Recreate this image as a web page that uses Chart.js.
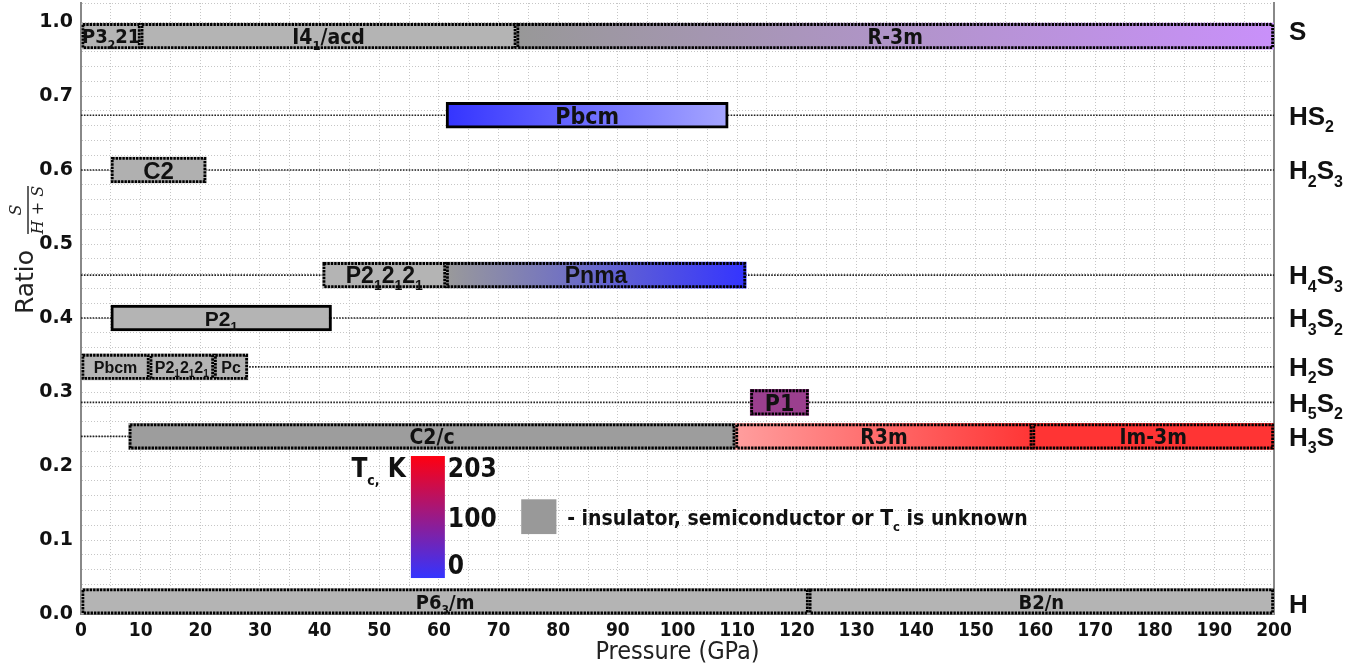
<!DOCTYPE html>
<html>
<head>
<meta charset="utf-8">
<script src="https://cdn.jsdelivr.net/npm/chart.js@4.4.0/dist/chart.umd.min.js"></script>
<style>
  html, body { margin: 0; padding: 0; background: #fff; }
</style>
</head>
<body>
<canvas id="chart" width="1360" height="666"></canvas>
<script>
// rows of the diagram (composition lines), position on the ratio axis
var rowNames = ['S', 'HS_2', 'H_2S_3', 'H_4S_3', 'H_3S_2', 'H_2S', 'H_5S_2', 'H_3S', 'H'];
var rowPos = [0.781, 0.674, 0.600, 0.458, 0.400, 0.334, 0.286, 0.240, 0.017];
var tieRows = [1, 2, 3, 4, 5, 6, 7];

// phases: name, row, pressure range (GPa)
var phaseNames = ['P3_221', 'I4_1/acd', 'R-3m', 'Pbcm', 'C2', 'P2_12_12_1', 'Pnma', 'P2_1',
                  'Pbcm', 'P2_12_12_1', 'Pc', 'P1', 'C2/c', 'R3m', 'Im-3m', 'P6_3/m', 'B2/n'];
var phaseRow  = [0, 0, 0, 1, 2, 3, 3, 4, 5, 5, 5, 6, 7, 7, 7, 8, 8];
var phaseFrom = [0, 10, 73, 61.2, 5, 40.5, 61.2, 5, 0, 11.5, 22.3, 112.2, 8, 109.7, 159.5, 0, 122];
var phaseTo   = [10, 73, 200, 108.5, 21, 61.2, 111.5, 42, 11.5, 22.3, 28, 122, 109.7, 159.5, 200, 122, 200];

var yTickValues = [0, 0.1, 0.2, 0.3, 0.4, 0.5, 0.6, 0.7, 0.8];
var yTickLabels = ['0.0', '0.1', '0.2', '0.3', '0.4', '0.5', '0.6', '0.7', '1.0'];
var tcTicks = [0, 100, 203];

// styles
var GR = '#b4b4b4';
var phaseFill = [[GR], [GR], ['#989898', '#c990fa'], ['#3434ff', '#a6a6ff'], ['#b0b0b0'], [GR],
                 ['#9a9a9a', '#3434ff'], [GR], [GR], [GR], [GR], ['#9b3f8e'], ['#9d9d9d'],
                 ['#ff9e9e', '#ff3535'], ['#ff3434'], [GR], [GR]];
var phaseSolid = [0, 0, 0, 1, 0, 0, 0, 1, 0, 0, 0, 0, 0, 0, 0, 0, 0];
var phaseFontSize = [20, 21, 21, 23, 24, 23, 23, 21, 16, 16, 16, 23, 21, 21, 21, 20, 20];
var phaseNarrow   = [1, 1, 1, 1, 0, 0, 0, 0, 0, 0, 0, 1, 1, 1, 1, 1, 1];

var NARROW = '"Liberation Sans Narrow", "DejaVu Sans Condensed", sans-serif';
var WIDE = '"Liberation Sans", "DejaVu Sans", sans-serif';
var COND = '"DejaVu Sans Condensed", "Liberation Sans Narrow", sans-serif';

// text with subscripts: "_x" or "_{xy}"
function parseRich(str) {
    var parts = [];
    for (var i = 0; i < str.length; i++) {
        var ch = str[i];
        if (ch === '_') {
            if (str[i + 1] === '{') {
                var j = str.indexOf('}', i);
                parts.push({ t: str.slice(i + 2, j), sub: true });
                i = j;
            } else {
                parts.push({ t: str[i + 1], sub: true });
                i++;
            }
        } else {
            if (parts.length && !parts[parts.length - 1].sub) parts[parts.length - 1].t += ch;
            else parts.push({ t: ch, sub: false });
        }
    }
    return parts;
}

function drawRich(ctx, str, x, y, size, family, weight, align, subScale) {
    subScale = subScale || 0.6;
    var parts = parseRich(str);
    var fMain = (weight || '') + ' ' + size + 'px ' + family;
    var fSub = (weight || '') + ' ' + Math.round(size * subScale) + 'px ' + family;
    var w = 0;
    parts.forEach(p => { ctx.font = p.sub ? fSub : fMain; p.w = ctx.measureText(p.t).width; w += p.w; });
    var cx = align === 'center' ? x - w / 2 : (align === 'right' ? x - w : x);
    var base = y + size * 0.36;
    ctx.textAlign = 'left';
    ctx.textBaseline = 'alphabetic';
    parts.forEach(p => {
        ctx.font = p.sub ? fSub : fMain;
        ctx.fillText(p.t, cx, p.sub ? base + size * 0.28 : base);
        cx += p.w;
    });
    return w;
}

var barData = phaseNames.map((n, i) => ({ y: rowPos[phaseRow[i]], x: [phaseFrom[i], phaseTo[i]] }));

var datasets = [{
    type: 'bar',
    indexAxis: 'y',
    data: barData,
    barThickness: 26,
    borderSkipped: false,
    borderColor: '#000',
    borderWidth: c => phaseSolid[c.dataIndex] ? 3 : 0,
    backgroundColor: c => {
        var i = c.dataIndex, f = phaseFill[i];
        if (!f) return GR;
        if (f.length == 1) return f[0];
        var xs = c.chart.scales.x;
        if (!c.chart.chartArea || !xs) return f[0];
        var g = c.chart.ctx.createLinearGradient(xs.getPixelForValue(phaseFrom[i]), 0, xs.getPixelForValue(phaseTo[i]), 0);
        g.addColorStop(0, f[0]);
        g.addColorStop(1, f[1]);
        return g;
    },
    order: 1
}];
tieRows.forEach(r => {
    datasets.push({
        type: 'line',
        data: [{ x: 0, y: rowPos[r] }, { x: 200, y: rowPos[r] }],
        borderColor: '#222',
        borderWidth: 1.6,
        borderDash: [1.6, 1.3],
        pointRadius: 0,
        order: 2
    });
});

var barDecor = {
    id: 'barDecor',
    afterDatasetsDraw(chart) {
        var ctx = chart.ctx;
        var meta = chart.getDatasetMeta(0);
        ctx.save();
        meta.data.forEach((bar, i) => {
            var p = bar.getProps(['x', 'y', 'base', 'height'], true);
            var l = Math.min(p.x, p.base), r = Math.max(p.x, p.base);
            var t = p.y - p.height / 2, b = p.y + p.height / 2;
            if (!phaseSolid[i]) {
                ctx.strokeStyle = '#000';
                ctx.lineWidth = 2.8;
                ctx.setLineDash([2.4, 1]);
                ctx.strokeRect(l + 1.4, t + 1.4, r - l - 2.8, b - t - 2.8);
                ctx.setLineDash([]);
            }
            ctx.fillStyle = '#111';
            drawRich(ctx, phaseNames[i], (l + r) / 2, p.y, phaseFontSize[i],
                phaseNarrow[i] ? NARROW : WIDE, 'bold', 'center');
        });
        ctx.restore();
    },
    afterDraw(chart) {
        var ctx = chart.ctx, xs = chart.scales.x, ys = chart.scales.y, area = chart.chartArea;
        ctx.save();
        // formula labels at the right
        ctx.fillStyle = '#111';
        rowNames.forEach((n, i) => {
            var y = ys.getPixelForValue(rowPos[i]);
            if (i === 0) y -= 5;
            if (i === rowNames.length - 1) y += 2;
            drawRich(ctx, n, area.right + 15, y, 26, WIDE, 'bold', 'left', 0.62);
        });

        // y axis title
        ctx.save();
        ctx.translate(26, 282);
        ctx.rotate(-Math.PI / 2);
        ctx.font = '25px "DejaVu Sans", sans-serif';
        ctx.textAlign = 'center';
        ctx.textBaseline = 'middle';
        ctx.fillStyle = '#222';
        ctx.fillText('Ratio', 0, 0);
        ctx.translate(72, 2);
        ctx.font = 'italic 16px "DejaVu Serif", serif';
        ctx.fillText('S', 0, -11);
        ctx.fillText('H + S', 0, 11);
        ctx.fillRect(-24, -0.7, 48, 1.4);
        ctx.restore();

        // colour bar for Tc
        var cbL = xs.getPixelForValue(55.3), cbR = xs.getPixelForValue(61.0);
        var cbT = ys.getPixelForValue(0.2135), cbB = ys.getPixelForValue(0.0486);
        var g = ctx.createLinearGradient(0, cbB, 0, cbT);
        g.addColorStop(0, '#3434ff');
        g.addColorStop(1, '#ff0010');
        ctx.fillStyle = g;
        ctx.fillRect(cbL, cbT, cbR - cbL, cbB - cbT);
        ctx.fillStyle = '#111';
        tcTicks.forEach(v => {
            var y = (cbB - 13) - v / tcTicks[tcTicks.length - 1] * (cbB - cbT - 25);
            drawRich(ctx, String(v), cbR + 3, y, 26, COND, 'bold', 'left');
        });
        drawRich(ctx, 'T_{c,} K', cbL - 5, ys.getPixelForValue(0.2135) + 12, 26, COND, 'bold', 'right', 0.55);

        // grey legend square
        var sqL = xs.getPixelForValue(73.8), sqR = xs.getPixelForValue(79.7);
        var sqT = ys.getPixelForValue(0.155), sqB = ys.getPixelForValue(0.108);
        ctx.fillStyle = '#999';
        ctx.fillRect(sqL, sqT, sqR - sqL, sqB - sqT);
        ctx.fillStyle = '#111';
        drawRich(ctx, '- insulator, semiconductor or T_c is unknown', xs.getPixelForValue(81.5),
            ys.getPixelForValue(0.131), 21, NARROW, 'bold', 'left', 0.6);
        ctx.restore();
    }
};

var minorY = [];
for (var k = 0; k <= 40; k++) minorY.push(Math.round(k * 2) / 100);
minorY.push(0.8257);

function noPad(s) {
    s.paddingTop = 0;
    s.paddingBottom = 0;
}

var chart = new Chart(document.getElementById('chart').getContext('2d'), {
    type: 'bar',
    data: { datasets: datasets },
    options: {
        responsive: false,
        animation: false,
        layout: { padding: { top: 3, right: 0, left: 0, bottom: 0 } },
        plugins: { legend: { display: false }, tooltip: { enabled: false } },
        scales: {
            x: {
                type: 'linear',
                offset: false,
                min: 0,
                max: 200,
                afterFit: s => { s.height = 52; s.paddingLeft = 0; s.paddingRight = 0; },
                ticks: {
                    stepSize: 5,
                    autoSkip: false,
                    maxRotation: 0,
                    padding: 6,
                    color: '#111',
                    font: { family: COND, size: 19, weight: 'bold' },
                    callback: v => (v % 10 === 0 ? String(v) : '')
                },
                grid: { color: '#c6c6c6', lineWidth: 1, drawTicks: false, offset: false },
                border: { display: true, color: '#888', width: 2, dash: [1, 2] },
                title: {
                    display: true,
                    text: 'Pressure (GPa)',
                    color: '#222',
                    font: { family: COND, size: 25, lineHeight: 1.1 },
                    padding: { top: 0, bottom: 0 }
                }
            },
            y: {
                type: 'linear',
                offset: false,
                min: 0,
                max: 0.8257,
                afterFit: s => { s.width = 81; noPad(s); },
                afterBuildTicks: s => { s.ticks = minorY.map(v => ({ value: v })); },
                ticks: {
                    autoSkip: false,
                    padding: 8,
                    color: '#111',
                    font: { family: '"DejaVu Sans", sans-serif', size: 19, weight: 'bold' },
                    callback: v => {
                        var k = yTickValues.findIndex(t => Math.abs(t - v) < 1e-6);
                        return k < 0 ? '' : yTickLabels[k];
                    }
                },
                grid: { color: '#c6c6c6', lineWidth: 1, drawTicks: false, offset: false },
                border: { display: true, color: '#888', width: 2, dash: [1, 2] }
            },
            y2: {
                type: 'linear',
                offset: false,
                position: 'right',
                min: 0,
                max: 0.8257,
                afterFit: s => { s.width = 86; noPad(s); },
                ticks: { display: false },
                grid: { drawOnChartArea: false, drawTicks: false },
                border: { display: true, color: '#888', width: 2 }
            }
        }
    },
    plugins: [barDecor]
});
</script>
</body>
</html>
